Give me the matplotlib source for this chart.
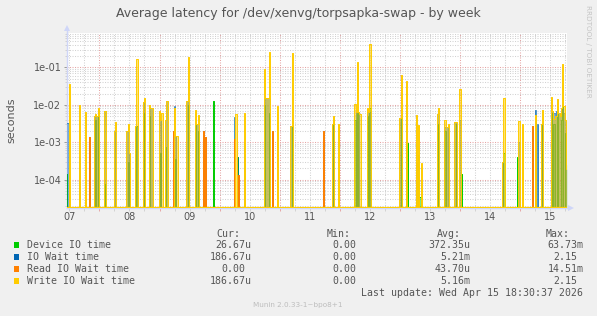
import matplotlib
matplotlib.use("Agg")
import matplotlib.pyplot as plt
from matplotlib.patches import Polygon, Rectangle
from matplotlib.lines import Line2D
from matplotlib.ticker import LogLocator, NullFormatter, FuncFormatter
import matplotlib.dates as mdates
import numpy as np
import pandas as pd

# ---------------- data ----------------
YEAR = "2026-"
sample_start = "2026-04-07 11:00"
sample_end = "2026-04-15 18:30"

# (time, seconds) samples; every other 30-minute sample is 0
device_io = [
    ("04-07 11:00", 0.00014), ("04-07 16:00", 0.0004), ("04-07 22:30", 0.0040), ("04-07 23:30", 0.0050),
    ("04-08 02:00", 7.8e-5), ("04-08 11:30", 0.0003), ("04-08 15:00", 0.0027), ("04-08 18:00", 0.0060),
    ("04-08 20:00", 0.0050), ("04-09 00:30", 0.00052), ("04-09 02:30", 0.00075), ("04-09 06:30", 0.00035),
    ("04-09 11:30", 0.010), ("04-09 14:30", 0.0028), ("04-09 15:30", 0.0020), ("04-09 21:30", 0.0128),
    ("04-10 07:00", 0.0004), ("04-10 18:00", 0.010), ("04-10 20:00", 0.006), ("04-11 05:00", 0.0027),
    ("04-11 21:30", 0.0030), ("04-12 06:00", 0.0040), ("04-12 07:00", 0.0060), ("04-12 11:00", 0.0050),
    ("04-12 12:00", 0.0080), ("04-13 00:30", 0.0045), ("04-13 03:00", 0.00096), ("04-13 07:30", 0.00045),
    ("04-13 08:00", 3.4e-5), ("04-13 15:30", 0.0030), ("04-13 18:00", 0.0020), ("04-13 22:30", 0.0030),
    ("04-14 00:30", 0.000145), ("04-14 17:30", 0.0005), ("04-14 23:00", 0.0004), ("04-15 09:00", 0.0030),
    ("04-15 12:30", 0.0060), ("04-15 13:30", 0.0030), ("04-15 15:00", 0.0060), ("04-15 16:30", 0.0040),
    ("04-15 17:00", 0.010), ("04-15 18:00", 0.0018), ("04-15 18:30", 0.00025),
]

io_wait = [
    ("04-07 11:00", 0.0033), ("04-07 11:30", 0.0033), ("04-07 16:00", 0.0004), ("04-07 20:00", 0.0014),
    ("04-07 22:00", 0.005), ("04-07 23:00", 0.005), ("04-08 02:00", 0.0069), ("04-08 02:30", 0.0069),
    ("04-08 06:00", 0.002), ("04-08 11:00", 0.002), ("04-08 12:00", 0.0005), ("04-08 14:30", 0.0027),
    ("04-08 15:00", 0.0027), ("04-08 17:30", 0.012), ("04-08 20:30", 0.008), ("04-08 21:00", 0.008),
    ("04-09 00:00", 0.005), ("04-09 00:30", 0.004), ("04-09 02:30", 0.004), ("04-09 03:00", 0.0128),
    ("04-09 05:30", 0.0020), ("04-09 06:00", 0.0090), ("04-09 06:30", 0.0015), ("04-09 11:00", 0.013),
    ("04-09 14:30", 0.003), ("04-09 15:00", 0.003), ("04-09 15:30", 0.003), ("04-09 17:30", 0.0020),
    ("04-09 18:30", 0.0014), ("04-10 06:00", 0.0047), ("04-10 07:00", 0.0004), ("04-10 07:30", 0.000129),
    ("04-10 10:00", 0.001), ("04-10 18:30", 0.015), ("04-10 19:00", 0.015), ("04-10 19:30", 0.015),
    ("04-10 20:00", 0.015), ("04-10 21:00", 0.0020), ("04-11 04:30", 0.0027), ("04-11 05:00", 0.0027),
    ("04-11 17:30", 0.0020), ("04-11 21:00", 0.003), ("04-12 06:30", 0.0065), ("04-12 07:00", 0.0065),
    ("04-12 07:30", 0.0065), ("04-12 11:00", 0.0065), ("04-12 11:30", 0.0065), ("04-12 12:00", 0.0065),
    ("04-13 00:00", 0.0045), ("04-13 00:30", 0.0045), ("04-13 02:30", 0.001), ("04-13 06:30", 0.0003),
    ("04-13 15:00", 0.0055), ("04-13 15:30", 0.0055), ("04-13 18:00", 0.0025), ("04-13 18:30", 0.0025),
    ("04-13 19:00", 0.0025), ("04-13 22:00", 0.0035), ("04-14 00:00", 0.004), ("04-14 17:00", 0.0003),
    ("04-14 23:30", 0.001), ("04-15 05:00", 0.0027), ("04-15 06:00", 0.0073), ("04-15 07:00", 0.0030),
    ("04-15 08:30", 0.003), ("04-15 12:30", 0.006), ("04-15 13:00", 0.007), ("04-15 13:30", 0.006),
    ("04-15 14:00", 0.005), ("04-15 14:30", 0.007), ("04-15 15:00", 0.008), ("04-15 15:30", 0.006),
    ("04-15 16:00", 0.005), ("04-15 16:30", 0.007), ("04-15 17:00", 0.008), ("04-15 17:30", 0.006),
    ("04-15 18:00", 0.004), ("04-15 18:30", 0.000187),
]

read_io_wait = [
    ("04-07 20:00", 0.0014), ("04-09 05:30", 0.0020), ("04-09 17:30", 0.0020), ("04-09 18:30", 0.0014),
    ("04-10 06:00", 0.0012), ("04-10 07:30", 0.000129), ("04-10 21:00", 0.0020), ("04-11 17:30", 0.0020),
    ("04-15 05:00", 0.0027),
]

write_io_wait = [
    ("04-07 12:00", 0.0365), ("04-07 16:00", 0.0096), ("04-07 18:30", 0.0065), ("04-07 22:00", 0.005),
    ("04-07 22:30", 0.0057), ("04-07 23:00", 0.005), ("04-07 23:30", 0.0080), ("04-08 02:00", 0.0069),
    ("04-08 02:30", 0.0069), ("04-08 06:00", 0.002), ("04-08 06:30", 0.0035), ("04-08 11:00", 0.002),
    ("04-08 11:30", 0.0030), ("04-08 12:00", 0.0005), ("04-08 14:30", 0.0027), ("04-08 15:00", 0.171),
    ("04-08 17:30", 0.012), ("04-08 18:00", 0.0148), ("04-08 20:00", 0.0100), ("04-08 20:30", 0.008),
    ("04-08 21:00", 0.0080), ("04-09 00:00", 0.0070), ("04-09 00:30", 0.004), ("04-09 01:00", 0.0059),
    ("04-09 02:30", 0.004), ("04-09 03:00", 0.0128), ("04-09 06:00", 0.0083), ("04-09 06:30", 0.0015),
    ("04-09 07:00", 0.0015), ("04-09 11:00", 0.013), ("04-09 11:30", 0.193), ("04-09 14:30", 0.0073),
    ("04-09 15:00", 0.003), ("04-09 15:30", 0.0054), ("04-10 06:30", 0.0057), ("04-10 10:00", 0.0061),
    ("04-10 18:00", 0.0884), ("04-10 18:30", 0.015), ("04-10 19:00", 0.015), ("04-10 19:30", 0.015),
    ("04-10 20:00", 0.263), ("04-10 23:00", 0.0090), ("04-11 04:30", 0.0027), ("04-11 05:00", 0.247),
    ("04-11 21:00", 0.003), ("04-11 21:30", 0.0051), ("04-11 23:30", 0.0030), ("04-12 06:00", 0.0106),
    ("04-12 06:30", 0.0065), ("04-12 07:00", 0.136), ("04-12 07:30", 0.0065), ("04-12 08:00", 0.0057),
    ("04-12 11:00", 0.0080), ("04-12 11:30", 0.0065), ("04-12 12:00", 0.43), ("04-13 00:00", 0.0045),
    ("04-13 00:30", 0.0636), ("04-13 02:30", 0.0422), ("04-13 06:30", 0.0053), ("04-13 07:30", 0.0028),
    ("04-13 08:30", 0.00027), ("04-13 15:00", 0.0055), ("04-13 15:30", 0.0083), ("04-13 18:00", 0.0040),
    ("04-13 18:30", 0.0025), ("04-13 19:00", 0.0025), ("04-13 19:30", 0.0031), ("04-13 22:00", 0.0035),
    ("04-13 22:30", 0.0035), ("04-14 00:00", 0.0258), ("04-14 17:00", 0.0003), ("04-14 17:30", 0.0154),
    ("04-14 23:30", 0.0037), ("04-15 01:00", 0.0030), ("04-15 06:00", 0.0053), ("04-15 08:30", 0.003),
    ("04-15 09:00", 0.0072), ("04-15 12:30", 0.0164), ("04-15 13:00", 0.007), ("04-15 13:30", 0.0042),
    ("04-15 14:00", 0.005), ("04-15 14:30", 0.0050), ("04-15 15:00", 0.0145), ("04-15 15:30", 0.006),
    ("04-15 16:00", 0.005), ("04-15 16:30", 0.0080), ("04-15 17:00", 0.125), ("04-15 17:30", 0.0090),
    ("04-15 18:00", 0.004), ("04-15 18:30", 0.000187),
]

series_names = ["Device IO time", "IO Wait time", "Read IO Wait time", "Write IO Wait time"]
series_colors = ["#00CC00", "#0066B3", "#FF8000", "#FFCC00"]
cur_values = ["26.67u", "186.67u", "0.00", "186.67u"]
min_values = ["0.00", "0.00", "0.00", "0.00"]
avg_values = ["372.35u", "5.21m", "43.70u", "5.16m"]
max_values = ["63.73m", "2.15", "14.51m", "2.15"]
day_labels = ["07", "08", "09", "10", "11", "12", "13", "14", "15"]
title = "Average latency for /dev/xenvg/torpsapka-swap - by week"
ylabel = "seconds"
last_update = "Last update: Wed Apr 15 18:30:37 2026"
watermark = "Munin 2.0.33-1~bpo8+1"
side_text = "RRDTOOL / TOBI OETIKER"

# ---------------- figure ----------------
W, H = 597, 316
fig = plt.figure(figsize=(W / 100, H / 100), dpi=100, facecolor="#F0F0F0")
L, R, T, B = 67, 567, 33, 208
ax = fig.add_axes([L / W, 1 - B / H, (R - L) / W, (B - T) / H])
ax.set_facecolor("white")

YMIN, YMAX = 1.74e-5, 0.83
ZERO_LEVEL = YMIN * 1.035  # rrdtool paints zero on the bottom edge of a log graph
grid = pd.date_range(sample_start, sample_end, freq="30min")


def build(pairs):
    s = pd.Series(0.0, index=grid)
    s.loc[pd.to_datetime([YEAR + t for t, _ in pairs])] = [v for _, v in pairs]
    v = s.values
    return np.where(v > 0, v, ZERO_LEVEL)


all_series = [device_io, io_wait, read_io_wait, write_io_wait]
fill_alpha = [0.5, 0.5, 0.5, 0.55]
line_alpha = [1.0, 0.6, 1.0, 1.0]
for pairs, col, fa, la in zip(all_series, series_colors, fill_alpha, line_alpha):
    y = build(pairs)
    ax.fill_between(grid, ZERO_LEVEL, y, step="mid", color=col, alpha=fa, lw=0, zorder=3)
    ax.plot(grid, y, color=col, lw=0.7, zorder=3, drawstyle="steps-mid", alpha=la)
# the zero line along the bottom edge is painted by the last (yellow) series
ax.plot(grid, np.full(len(grid), ZERO_LEVEL), color=series_colors[3], lw=0.85, zorder=3)

ax.set_yscale("log")
ax.set_ylim(YMIN, YMAX)
ax.set_xlim(pd.Timestamp("2026-04-07 11:04"), pd.Timestamp("2026-04-15 18:40"))

ax.yaxis.set_major_locator(LogLocator(base=10, numticks=12))
ax.yaxis.set_minor_locator(LogLocator(base=10, subs=np.arange(2, 10), numticks=12))
ax.yaxis.set_major_formatter(FuncFormatter(lambda v, p: f"{v:.0e}"))
ax.yaxis.set_minor_formatter(NullFormatter())

ax.xaxis.set_major_locator(mdates.DayLocator())
ax.xaxis.set_minor_locator(mdates.HourLocator(byhour=[0, 6, 12, 18]))
ax.xaxis.set_major_formatter(NullFormatter())
ax.xaxis.set_minor_formatter(NullFormatter())

major_c = "#E6A6A6"
minor_c = "#D2D2D2"
dash = (0, (1.0, 1.4))
ax.grid(True, which="major", axis="both", color=major_c, lw=0.75, linestyle=dash, zorder=1)
ax.grid(True, which="minor", axis="both", color=minor_c, lw=0.75, linestyle=dash, zorder=1)
ax.set_axisbelow(True)

ax.tick_params(axis="y", which="major", length=2.5, width=0.7, color="#9A9A9A", pad=1.5,
               labelsize=7, labelcolor="#555555")
ax.tick_params(axis="y", which="minor", length=1.5, width=0.6, color="#CCCCCC")
ax.tick_params(axis="x", which="major", length=2, width=0.7, color=major_c)
ax.tick_params(axis="x", which="minor", length=2, width=0.7, color=minor_c)
for lab in ax.get_yticklabels():
    lab.set_family("DejaVu Sans")

for sp in ["top", "right"]:
    ax.spines[sp].set_visible(False)
for sp in ["left", "bottom"]:
    ax.spines[sp].set_color("#CFD6F8")
    ax.spines[sp].set_linewidth(1.0)

# day labels at noon
for d in day_labels:
    t = pd.Timestamp(YEAR + "04-" + d + " 12:00")
    ax.annotate(d, xy=(t, 0), xycoords=("data", "axes fraction"), xytext=(0, -6.3),
                textcoords="offset points", ha="center", va="center", fontsize=7,
                color="#555555", family="DejaVu Sans", annotation_clip=False)


def fx(x):
    return x / W


def fy(y):
    return 1 - y / H


# axis extensions and arrows
fig.add_artist(Line2D([fx(L), fx(L)], [fy(T), fy(28)], color="#CFD6F8", lw=1.0))
fig.add_artist(Line2D([fx(R), fx(570)], [fy(B), fy(B)], color="#CFD6F8", lw=1.0))
fig.add_artist(Polygon([(fx(64), fy(31)), (fx(70), fy(31)), (fx(67), fy(25))], closed=True,
                       transform=fig.transFigure, color="#CFD6F8", lw=0))
fig.add_artist(Polygon([(fx(568), fy(205)), (fx(568), fy(211)), (fx(574), fy(208))], closed=True,
                       transform=fig.transFigure, color="#CFD6F8", lw=0))

# title, y label, side text
fig.text(fx(298.5), fy(14), title, ha="center", va="center", fontsize=9, color="#555555",
         family="DejaVu Sans")
fig.text(fx(11), fy(120), ylabel, ha="center", va="center", rotation=90, fontsize=8,
         color="#555555", family="DejaVu Sans")
fig.text(fx(588), fy(5), side_text, ha="center", va="top", rotation=270, fontsize=5.2,
         color="#C4C4C4", family="DejaVu Sans")

# legend
mono = "DejaVu Sans Mono"
LF = 7.1
CW = 5.95
legend_c = "#555555"
row_y = [245, 257, 269, 281]
fig.text(fx(216), fy(234), "Cur:", ha="left", va="center", fontsize=LF, family=mono, color=legend_c)
fig.text(fx(326.7), fy(234), "Min:", ha="left", va="center", fontsize=LF, family=mono, color=legend_c)
fig.text(fx(436.7), fy(234), "Avg:", ha="left", va="center", fontsize=LF, family=mono, color=legend_c)
fig.text(fx(546), fy(234), "Max:", ha="left", va="center", fontsize=LF, family=mono, color=legend_c)


def right_text(xr, y, s):
    if s[-1].isdigit():
        xr = xr - CW
    fig.text(fx(xr), fy(y), s, ha="right", va="center", fontsize=LF, family=mono, color=legend_c)


for i, y in enumerate(row_y):
    fig.add_artist(Rectangle((fx(14), fy(y + 2.7)), 5.4 / W, 5.4 / H, transform=fig.transFigure,
                             color=series_colors[i], lw=0))
    fig.text(fx(27), fy(y), series_names[i], ha="left", va="center", fontsize=LF, family=mono,
             color=legend_c)
    right_text(251.7, y, cur_values[i])
    right_text(362.0, y, min_values[i])
    right_text(470.7, y, avg_values[i])
    right_text(583.3, y, max_values[i])

fig.text(fx(583.3), fy(292.7), last_update, ha="right", va="center", fontsize=LF, family=mono,
         color=legend_c)
fig.text(fx(298), fy(305), watermark, ha="center", va="center", fontsize=5.2, color="#BDBDBD",
         family="DejaVu Sans")

fig.savefig("out.png", dpi=100, facecolor=fig.get_facecolor())
